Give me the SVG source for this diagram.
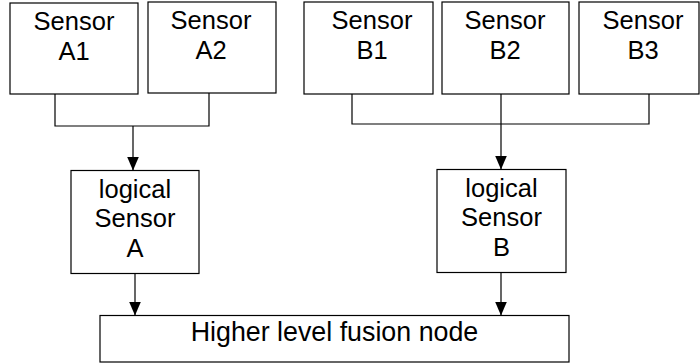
<svg xmlns="http://www.w3.org/2000/svg" width="700" height="364" viewBox="0 0 700 364">
  <style>
    .box { fill: #fff; stroke: #000; stroke-width: 1.2; }
    .lbl { font-family: "Liberation Sans", Arial, sans-serif; font-size: 25.5px; fill: #000; text-anchor: middle; }
    .big { font-size: 26.8px; }
    .wire { fill: none; stroke: #000; stroke-width: 1.2; }
    .arrow { fill: none; stroke: #000; stroke-width: 1.2; marker-end: url(#head); }
  </style>
  <defs>
    <!-- solid triangular arrowhead, tip at the end of the line -->
    <marker id="head" viewBox="0 0 14 12" refX="14" refY="6" markerWidth="14" markerHeight="12" markerUnits="userSpaceOnUse" orient="auto">
      <path d="M0,0 L14,6 L0,12 Z" fill="#000"/>
    </marker>
  </defs>
  <rect width="700" height="364" fill="#fff"/>

  <g id="sensor-a1">
    <rect class="box" x="10" y="3" width="128" height="91"/>
    <text class="lbl" x="74" y="30">Sensor</text>
    <text class="lbl" x="74" y="60">A1</text>
  </g>
  <g id="sensor-a2">
    <rect class="box" x="148" y="2" width="128" height="91"/>
    <text class="lbl" x="211" y="29">Sensor</text>
    <text class="lbl" x="211" y="59">A2</text>
  </g>
  <g id="sensor-b1">
    <rect class="box" x="304" y="2" width="129" height="92"/>
    <text class="lbl" x="372" y="29">Sensor</text>
    <text class="lbl" x="372" y="59">B1</text>
  </g>
  <g id="sensor-b2">
    <rect class="box" x="442" y="2" width="127" height="92"/>
    <text class="lbl" x="505" y="29">Sensor</text>
    <text class="lbl" x="505" y="59">B2</text>
  </g>
  <g id="sensor-b3">
    <rect class="box" x="579" y="2" width="120" height="92"/>
    <text class="lbl" x="643" y="29">Sensor</text>
    <text class="lbl" x="643" y="59">B3</text>
  </g>

  <g id="logical-a">
    <rect class="box" x="71" y="170.5" width="128" height="103"/>
    <text class="lbl" x="135" y="198">logical</text>
    <text class="lbl" x="135" y="227">Sensor</text>
    <text class="lbl" x="135" y="257">A</text>
  </g>
  <g id="logical-b">
    <rect class="box" x="437" y="169.5" width="129" height="103"/>
    <text class="lbl" x="501.5" y="197">logical</text>
    <text class="lbl" x="501.5" y="226">Sensor</text>
    <text class="lbl" x="501.5" y="256">B</text>
  </g>

  <g id="fusion">
    <rect class="box" x="100" y="315.5" width="469" height="46.5"/>
    <text class="lbl big" x="334.5" y="341">Higher level fusion node</text>
  </g>

  <g id="connectors">
    <path class="wire" d="M55,94 V126 H209 V93"/>
    <path class="arrow" d="M133,126 V170.5"/>
    <path class="wire" d="M352,94 V124 H649 V94 M501,94 V124"/>
    <path class="arrow" d="M501,124 V169.5"/>
    <path class="arrow" d="M135,273.5 V315.5"/>
    <path class="arrow" d="M501,272.5 V315.5"/>
  </g>
</svg>
